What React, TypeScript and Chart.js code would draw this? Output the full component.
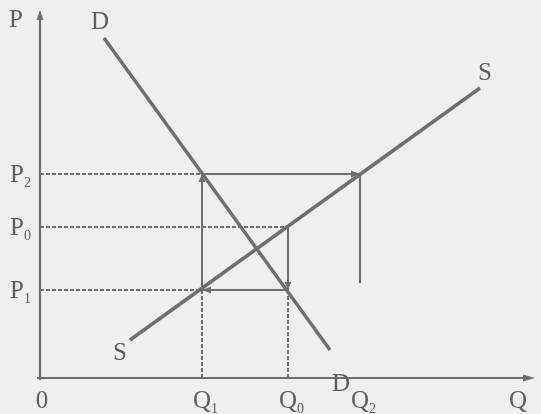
import React, { useEffect, useRef } from "react";
import { Chart, registerables } from "chart.js";

Chart.register(...registerables);

// Curves (quantity, price)
const demandQ = [64, 290];
const demandP = [340, 28];
const supplyQ = [90, 440];
const supplyP = [38, 290];

// Key quantities and prices
const Q1 = 162;
const Q0 = 248;
const Q2 = 320;
const P2 = 204;
const P0 = 151;
const P1 = 88;
const Q2LineEnd = 95;

// Axis tick labels
const quantityTicks = [0, Q1, Q0, Q2, 478];
const quantityLabels = ["0", "Q", "Q", "Q", "Q"];
const quantitySubs = ["", "1", "0", "2", ""];
const priceTicks = [P2, P0, P1];
const priceLabels = ["P", "P", "P"];
const priceSubs = ["2", "0", "1"];

const LINE = "#6e6e6e";
const TEXT = "#5e5e5e";
const FONT = "'Liberation Serif', 'Times New Roman', serif";

const pts = (xs: number[], ys: number[]) => xs.map((x, i) => ({ x, y: ys[i] }));

export default function App() {
  const ref = useRef<HTMLCanvasElement | null>(null);
  useEffect(() => {
    document.body.style.margin = "0";
    const canvas = ref.current!;
    const drawPlugin = {
      id: "econ",
      beforeDraw(chart: any) {
        const c = chart.ctx;
        c.save();
        c.fillStyle = "#efefef";
        c.fillRect(0, 0, chart.width, chart.height);
        c.restore();
      },
      afterDatasetsDraw(chart: any) {
        const c = chart.ctx as CanvasRenderingContext2D;
        const xs = chart.scales.x;
        const ys = chart.scales.y;
        const px = (v: number) => xs.getPixelForValue(v);
        const py = (v: number) => ys.getPixelForValue(v);
        const x0 = px(0);
        const y0 = py(0);
        c.save();
        // axes
        c.strokeStyle = LINE;
        c.fillStyle = LINE;
        c.lineWidth = 2.2;
        c.beginPath();
        c.moveTo(x0, y0 + 2);
        c.lineTo(x0, py(366));
        c.moveTo(x0 - 3, y0);
        c.lineTo(px(490), y0);
        c.stroke();
        const arrow = (x: number, y: number, dx: number, dy: number, len = 9, w = 3.5) => {
          const bx = x - dx * len;
          const by = y - dy * len;
          c.beginPath();
          c.moveTo(x, y);
          c.lineTo(bx - dy * w, by + dx * w);
          c.lineTo(bx + dy * w, by - dx * w);
          c.closePath();
          c.fill();
        };
        arrow(x0, py(368), 0, -1, 10, 3.5);
        arrow(px(495), y0, 1, 0, 12, 3.5);
        // cobweb arrows
        arrow(px(Q1), py(P2), 0, -1, 8, 3.5);
        arrow(px(Q2), py(P2), 1, 0, 9, 3.5);
        arrow(px(Q0), py(P1), 0, 1, 8, 3.5);
        arrow(px(Q1), py(P1), -1, 0, 9, 3.5);

        // labels
        c.fillStyle = TEXT;
        c.textBaseline = "middle";
        const label = (t: string, sub: string, x: number, y: number, size = 25) => {
          c.font = `${size}px ${FONT}`;
          c.textAlign = "left";
          const w = c.measureText(t).width;
          c.fillText(t, x, y);
          if (sub) {
            c.font = `${Math.round(size * 0.55)}px ${FONT}`;
            c.fillText(sub, x + w, y + size * 0.32);
          }
        };
        const centered = (t: string, sub: string, cx: number, y: number, size = 25) => {
          c.font = `${size}px ${FONT}`;
          const w = c.measureText(t).width;
          label(t, sub, cx - w / 2, y, size);
        };
        // price labels
        priceTicks.forEach((v, i) => label(priceLabels[i], priceSubs[i], 10, py(v) + 1, 25));
        // quantity labels
        quantityTicks.forEach((v, i) => centered(quantityLabels[i], quantitySubs[i], px(v) + (i === 0 ? 2 : 0), y0 + 23, 25));
        // axis P
        label("P", "", 9, 20, 25);
        // curve labels
        centered("D", "", 100, 22, 25);
        centered("S", "", 485, 73, 25);
        centered("S", "", 120, 353, 25);
        centered("D", "", 341, 384, 25);
        c.restore();
      },
    };

    const solid = { borderColor: LINE, borderWidth: 2, pointRadius: 0, showLine: true, fill: false };
    const dotted = { ...solid, borderWidth: 2, borderDash: [4, 2] };
    const chart = new Chart(canvas, {
      type: "scatter",
      data: {
        datasets: [
          { label: "D", data: pts(demandQ, demandP), ...solid, borderWidth: 3.4 },
          { label: "S", data: pts(supplyQ, supplyP), ...solid, borderWidth: 3.4 },
          { label: "cobweb1", data: pts([Q1, Q1, Q2, Q2], [P1, P2, P2, Q2LineEnd]), ...solid },
          { label: "cobweb0", data: pts([Q0, Q0, Q1], [P0, P1, P1]), ...solid },
          { label: "P2", data: pts([0, Q1], [P2, P2]), ...dotted },
          { label: "P0", data: pts([0, Q0], [P0, P0]), ...dotted },
          { label: "P1", data: pts([0, Q1], [P1, P1]), ...dotted },
          { label: "Q1", data: pts([Q1, Q1], [P1, 0]), ...dotted },
          { label: "Q0", data: pts([Q0, Q0], [P1, 0]), ...dotted },
        ] as any,
      },
      options: {
        animation: false,
        responsive: false,
        layout: { padding: { left: 40, right: 6, top: 8, bottom: 36 } },
        plugins: { legend: { display: false }, tooltip: { enabled: false } },
        scales: {
          x: { type: "linear", min: 0, max: 495, display: false },
          y: { type: "linear", min: 0, max: 370, display: false },
        },
      },
      plugins: [drawPlugin],
    });
    return () => chart.destroy();
  }, []);
  return (
    <div style={{ width: 541, height: 414 }}>
      <canvas ref={ref} width={541} height={414} />
    </div>
  );
}
